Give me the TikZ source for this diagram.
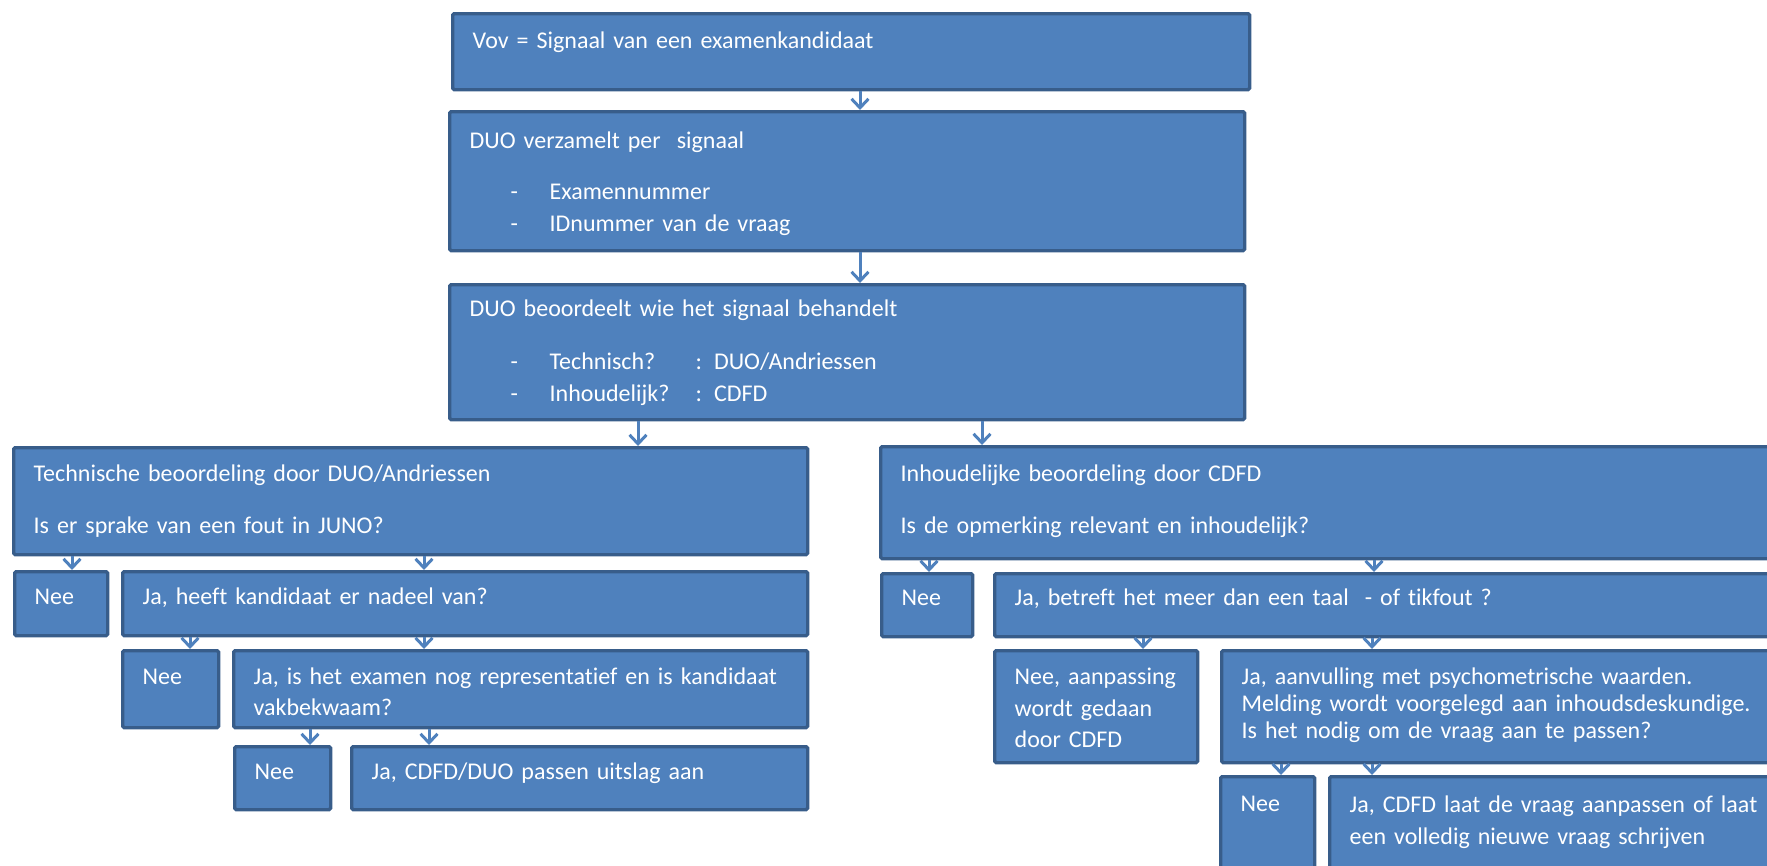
\documentclass[tikz,border=0pt]{standalone}
\usepackage{fontspec}
\setmainfont{Carlito}[Ligatures=NoCommon]
\usetikzlibrary{arrows.meta}

\definecolor{vakblauw}{HTML}{4F81BD}
\definecolor{vakrand}{HTML}{385D8A}

% lijn uit een opsomming
\newcommand{\punt}[1]{\hspace*{41pt}\makebox[39pt][l]{-}#1}

\tikzset{
  vak/.style={draw=vakrand, fill=vakblauw, line width=3.3pt, rounded corners=1.5pt,
    text=white, anchor=north west, align=left, inner xsep=20pt, inner ysep=0pt,
    font=\fontsize{24}{32}\selectfont},
  maat/.style n args={3}{text width=#1, text height=#2, text depth=#3},
  pijl/.style={draw=vakblauw, line width=3pt, -{Straight Barb[length=9pt,width=17pt]}}
}

\begin{document}
\begin{tikzpicture}[x=1pt, y=-1pt]
  \useasboundingbox (0,0) rectangle (1767,865);
  \clip (0,0) rectangle (1767,865);

  % bovenste kolom
  \node[vak, maat={757pt}{35pt}{41pt}] (vov) at (451,12)
    {Vov = Signaal van een examenkandidaat};
  \node[vak, maat={755pt}{37pt}{102pt}] (verz) at (448,110)
    {DUO verzamelt per~ signaal\\[19pt]
     \punt{Examennummer}\\
     \punt{IDnummer van de vraag}};
  \node[vak, maat={755pt}{32pt}{103pt}] (beoor) at (448,283)
    {DUO beoordeelt wie het signaal behandelt\\[21pt]
     \punt{\makebox[146pt][l]{Technisch?}: DUO/Andriessen}\\
     \punt{\makebox[146pt][l]{Inhoudelijk?}: CDFD}};

  % technische tak
  \node[vak, maat={754pt}{34pt}{73pt}] (tech) at (12,446)
    {Technische beoordeling door DUO/Andriessen\\[20pt]
     Is er sprake van een fout in JUNO?};
  \node[vak, maat={53pt}{33pt}{31pt}] (nee1) at (13,570) {Nee};
  \node[vak, maat={645pt}{33pt}{31pt}] (ja1) at (121,570)
    {Ja, heeft kandidaat er nadeel van?};
  \node[vak, maat={56pt}{34pt}{43pt}] (nee2) at (121,649) {Nee};
  \node[vak, maat={534pt}{34pt}{43pt}, font=\fontsize{24}{31}\selectfont] (ja2) at (232,649)
    {Ja, is het examen nog representatief en is kandidaat\\
     vakbekwaam?};
  \node[vak, maat={56pt}{33pt}{30pt}] (nee3) at (233,745) {Nee};
  \node[vak, maat={416pt}{33pt}{30pt}] (ja3) at (350,745)
    {Ja, CDFD/DUO passen uitslag aan};

  % inhoudelijke tak
  \node[vak, maat={881pt}{35pt}{77pt}] (inh) at (879,445)
    {Inhoudelijke beoordeling door CDFD\\[20pt]
     Is de opmerking relevant en inhoudelijk?};
  \node[vak, maat={51pt}{32pt}{31pt}] (nee4) at (880,572) {Nee};
  \node[vak, maat={767pt}{32pt}{31pt}] (ja4) at (993,572)
    {Ja, betreft het meer dan een taal~ - of tikfout~?};
  \node[vak, maat={163pt}{34pt}{78pt}, font=\fontsize{24}{31.5}\selectfont] (nee5) at (993,649)
    {Nee,~aanpassing\\ wordt gedaan\\ door CDFD};
  \node[vak, maat={540pt}{34pt}{78pt}, font=\fontsize{24}{27}\selectfont] (ja5) at (1220,649)
    {Ja, aanvulling met psychometrische waarden.\\
     Melding wordt voorgelegd aan inhoudsdeskundige.\\
     Is het nodig om de vraag aan te passen?};
  \node[vak, maat={54pt}{35pt}{90pt}] (nee6) at (1219,775) {Nee};
  \node[vak, maat={432pt}{36pt}{89pt}] (ja6) at (1328,775)
    {Ja, CDFD laat de vraag aanpassen of laat\\
     een volledig nieuwe vraag schrijven};

  % pijlen
  \foreach \van/\naar/\x in {vov/verz/860, verz/beoor/860, beoor/tech/638, beoor/inh/982,
      tech/nee1/72, tech/ja1/424, ja1/nee2/190, ja1/ja2/424, ja2/nee3/310, ja2/ja3/429,
      inh/nee4/929, inh/ja4/1374, ja4/nee5/1143, ja4/ja5/1372, ja5/nee6/1281, ja5/ja6/1372} {
    \coordinate (k) at (\x,0);
    \draw[pijl] (\van.south -| k) -- (\naar.north -| k);
  }
\end{tikzpicture}
\end{document}
